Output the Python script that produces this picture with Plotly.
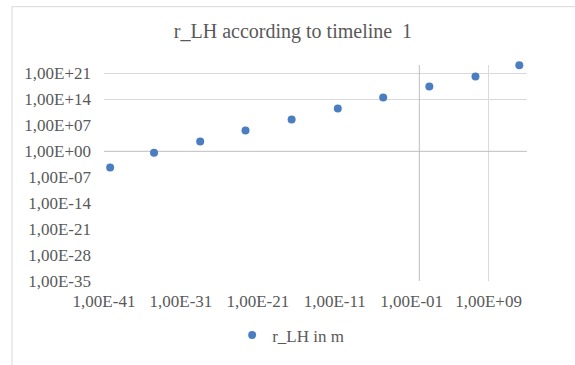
import plotly.graph_objects as go

# Time (x) and Hubble-like length r_LH (y) for timeline 1
t_values = [6.3e-41, 3.2e-35, 3.2e-29, 2.5e-23, 2.5e-17, 2.5e-11, 2.0e-5, 2.0e1, 2.0e7, 1.0e13]
r_lh_values = [4.2e-5, 4.1e-1, 4.2e2, 3.9e5, 3.8e8, 3.5e11, 3.2e14, 3.2e17, 1.6e20, 1.6e23]

x_tick_vals = [1e-41, 1e-31, 1e-21, 1e-11, 1e-1, 1e9]
x_tick_text = ["1,00E-41", "1,00E-31", "1,00E-21", "1,00E-11", "1,00E-01", "1,00E+09"]
y_tick_vals = [1e-35, 1e-28, 1e-21, 1e-14, 1e-7, 1e0, 1e7, 1e14, 1e21]
y_tick_text = ["1,00E-35", "1,00E-28", "1,00E-21", "1,00E-14", "1,00E-07",
               "1,00E+00", "1,00E+07", "1,00E+14", "1,00E+21"]

x_grid_vals = [1e9]
y_grid_vals = [1e14, 1e21]
axis_cross = 1.0

FONT = "Liberation Serif"
TEXT = "#595959"
BLUE = "#4A7EC0"
GRID = "#d9d9d9"
AXIS = "#bfbfbf"

fig = go.Figure()
fig.add_trace(go.Scatter(
    x=t_values, y=r_lh_values, mode="markers", name="r_LH in m",
    marker=dict(size=8, color=BLUE), cliponaxis=False,
))

shapes = []
# chart frame
shapes.append(dict(type="rect", xref="paper", yref="paper",
                   x0=-0.2175, x1=1.3, y0=-0.6, y1=1.27,
                   line=dict(color=GRID, width=1), layer="below"))
for gx in x_grid_vals:
    shapes.append(dict(type="line", xref="x", yref="paper",
                       x0=gx, x1=gx, y0=0, y1=1,
                       line=dict(color=GRID, width=1), layer="below"))
for gy in y_grid_vals:
    shapes.append(dict(type="line", xref="paper", yref="y",
                       x0=0, x1=1, y0=gy, y1=gy,
                       line=dict(color=GRID, width=1), layer="below"))
# axes crossing at 1
shapes.append(dict(type="line", xref="x", yref="paper",
                   x0=axis_cross, x1=axis_cross, y0=0, y1=1,
                   line=dict(color=AXIS, width=1), layer="below"))
shapes.append(dict(type="line", xref="paper", yref="y",
                   x0=0, x1=1, y0=axis_cross, y1=axis_cross,
                   line=dict(color=AXIS, width=1), layer="below"))

fig.update_layout(
    width=575, height=365,
    margin=dict(l=104, r=48, t=65, b=78),
    paper_bgcolor="white", plot_bgcolor="white",
    font=dict(family=FONT, size=17, color=TEXT),
    title=dict(text="r_LH according to timeline  1", x=293 / 575, xref="container",
               xanchor="center", y=1 - 31 / 365, yref="container", yanchor="middle",
               font=dict(family=FONT, size=20, color=TEXT)),
    xaxis=dict(type="log", range=[-41, 14], tickvals=x_tick_vals, ticktext=x_tick_text,
               showgrid=False, zeroline=False, showline=False, ticks="",
               tickfont=dict(family=FONT, size=17, color=TEXT),
               ticklabelstandoff=8),
    yaxis=dict(type="log", range=[-35, 23.3], tickvals=y_tick_vals, ticktext=y_tick_text,
               showgrid=False, zeroline=False, showline=False, ticks="",
               tickfont=dict(family=FONT, size=17, color=TEXT),
               ticklabelstandoff=12),
    showlegend=True,
    legend=dict(orientation="h", x=0.303, xanchor="left", y=-0.252, yanchor="middle",
                font=dict(family=FONT, size=17, color=TEXT), bgcolor="rgba(0,0,0,0)"),
    shapes=shapes,
)

fig.write_html("out.html")
